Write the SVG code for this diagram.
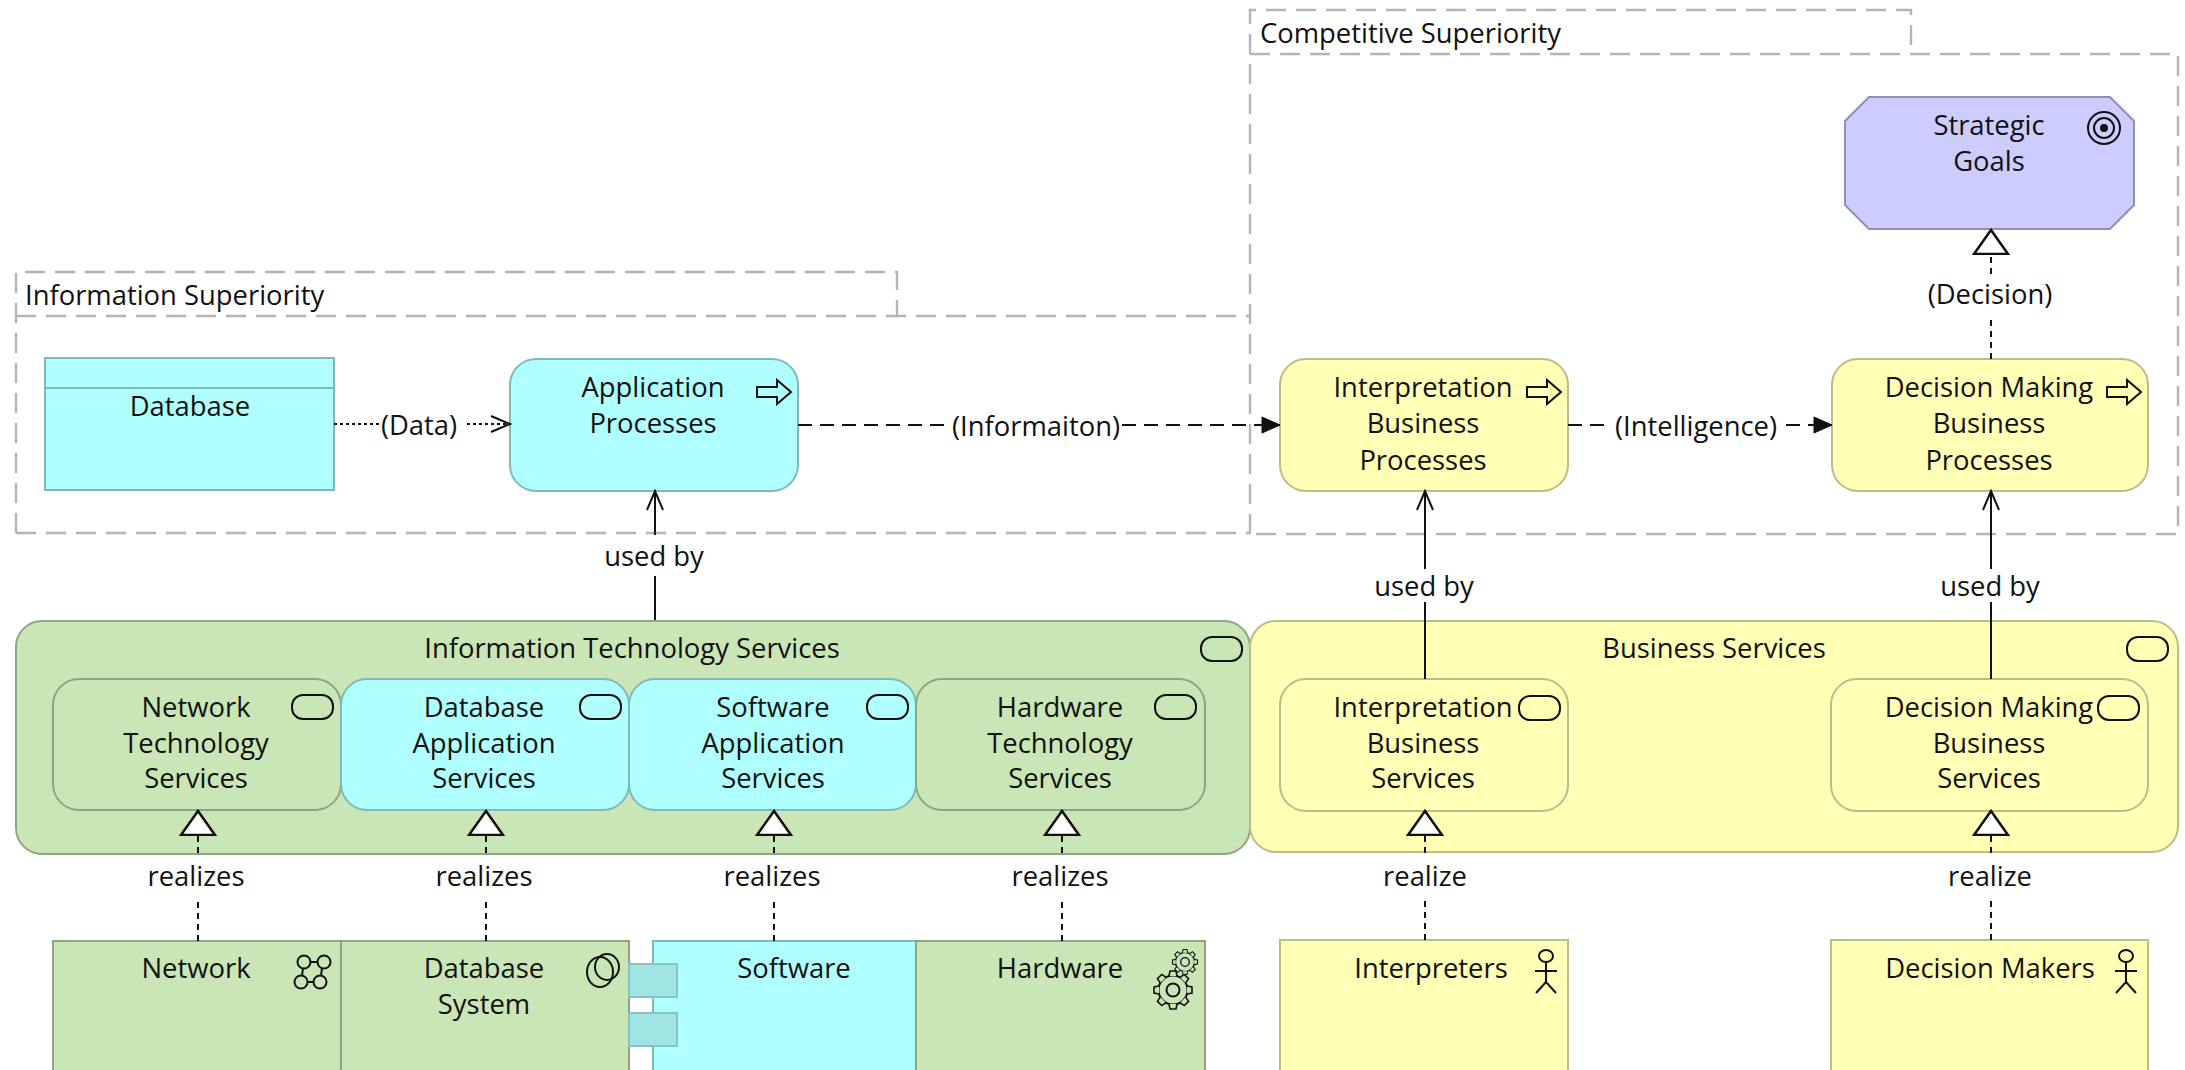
<svg xmlns="http://www.w3.org/2000/svg" width="2185" height="1070" viewBox="0 0 2185 1070">
<style>
text{font-family:"Open Sans","Noto Sans","Liberation Sans",sans-serif;font-size:27.4px;fill:#111;text-anchor:middle}
.l{text-anchor:start}
.grp{fill:none;stroke:#b4b4b4;stroke-width:2.4;stroke-dasharray:20 10}
.app{fill:#b0ffff;stroke:#7fb9b9;stroke-width:2}
.tech{fill:#cbe6b6;stroke:#8ea581;stroke-width:2}
.biz{fill:#ffffb5;stroke:#bcbc88;stroke-width:2}
.goal{fill:#ccccff;stroke:#8f8fb8;stroke-width:2}
.lug{fill:#a0e4e4;stroke:#86c4c4;stroke-width:2}
.ic{fill:none;stroke:#111;stroke-width:2}
.c{fill:none;stroke:#111;stroke-width:2}
.flow{stroke-dasharray:14 8}
.real{stroke-dasharray:6 5}
.acc{stroke-dasharray:3 3}
</style>
<defs>
<marker id="open" markerUnits="userSpaceOnUse" markerWidth="24" markerHeight="24" refX="20" refY="12" orient="auto"><path d="M1,4 L20,12 L1,20" fill="none" stroke="#111" stroke-width="2"/></marker>
<marker id="solid" markerUnits="userSpaceOnUse" markerWidth="24" markerHeight="24" refX="20" refY="12" orient="auto"><path d="M2,4 L20,12 L2,20 Z" fill="#111" stroke="#111"/></marker>
<marker id="tri" markerUnits="userSpaceOnUse" markerWidth="40" markerHeight="44" refX="1" refY="20" orient="auto"><path d="M1,3 L25,20 L1,37 Z" fill="#fff" stroke="#111" stroke-width="2.5"/></marker>
<g id="pill"><rect width="41" height="24" rx="11" ry="11" class="ic"/></g>
<path id="arrow" class="ic" d="M0,8 H20 V1 L34,13 L20,25 V18 H0 Z"/>
<g id="tooth"><path d="M-4,-14 L-3,-19 L3,-19 L4,-14" fill="#cbe6b6" stroke="#111" stroke-width="1.6"/></g>
<g id="gear"><circle r="14.5" class="ic" stroke-width="1.6" fill="#cbe6b6"/><circle r="6.5" class="ic"/>
<use href="#tooth"/><use href="#tooth" transform="rotate(45)"/><use href="#tooth" transform="rotate(90)"/><use href="#tooth" transform="rotate(135)"/><use href="#tooth" transform="rotate(180)"/><use href="#tooth" transform="rotate(225)"/><use href="#tooth" transform="rotate(270)"/><use href="#tooth" transform="rotate(315)"/></g>
<g id="actor" class="ic"><ellipse cx="0" cy="6" rx="7" ry="6"/><path d="M0,12 V32 M-11,21 H11 M-10,43 L0,32 L10,43"/></g>
</defs>
<g id="grp-info"><path class="grp" d="M16,533 V272 H897 V316 M16,316 H1250 M16,533 H1250"/><text class="l" x="25" y="305">Information Superiority</text></g>
<g id="grp-comp"><path class="grp" d="M1250,534 V10 H1911 V54 M1250,54 H2178 V534 H1250"/><text class="l" x="1260" y="43">Competitive Superiority</text></g>
<g id="its"><rect class="tech" x="16" y="621" width="1234" height="233" rx="26"/><text x="632" y="658">Information Technology Services</text><use href="#pill" x="1201" y="637"/></g>
<g id="bs"><rect class="biz" x="1250" y="621" width="928" height="231" rx="26"/><text x="1714" y="658">Business Services</text><use href="#pill" x="2127" y="637"/></g>
<g id="database"><rect class="app" x="45" y="358" width="289" height="132"/><path class="app" d="M45,388 H334"/><text x="190" y="416">Database</text></g>
<g id="app-proc"><rect class="app" x="510" y="359" width="288" height="132" rx="26"/><text x="653" y="397">Application</text><text x="653" y="433">Processes</text><use href="#arrow" x="757" y="379"/></g>
<g id="interp-proc"><rect class="biz" x="1280" y="359" width="288" height="132" rx="26"/><text x="1423" y="397">Interpretation</text><text x="1423" y="433">Business</text><text x="1423" y="470">Processes</text><use href="#arrow" x="1527" y="379"/></g>
<g id="dec-proc"><rect class="biz" x="1832" y="359" width="316" height="132" rx="26"/><text x="1989" y="397">Decision Making</text><text x="1989" y="433">Business</text><text x="1989" y="470">Processes</text><use href="#arrow" x="2107" y="379"/></g>
<g id="goals"><path class="goal" d="M1869,97 H2110 L2134,121 V205 L2110,229 H1869 L1845,205 V121 Z"/><text x="1989" y="135">Strategic</text><text x="1989" y="171">Goals</text><circle class="ic" cx="2104" cy="128" r="16"/><circle class="ic" cx="2104" cy="128" r="10"/><circle cx="2104" cy="128" r="4" fill="#111"/></g>
<g id="net-svc"><rect class="tech" x="53" y="679" width="288" height="131" rx="26"/><text x="196" y="717">Network</text><text x="196" y="753">Technology</text><text x="196" y="788">Services</text><use href="#pill" x="292" y="695"/></g>
<g id="db-svc"><rect class="app" x="341" y="679" width="288" height="131" rx="26"/><text x="484" y="717">Database</text><text x="484" y="753">Application</text><text x="484" y="788">Services</text><use href="#pill" x="580" y="695"/></g>
<g id="sw-svc"><rect class="app" x="629" y="679" width="287" height="131" rx="26"/><text x="773" y="717">Software</text><text x="773" y="753">Application</text><text x="773" y="788">Services</text><use href="#pill" x="867" y="695"/></g>
<g id="hw-svc"><rect class="tech" x="916" y="679" width="289" height="131" rx="26"/><text x="1060" y="717">Hardware</text><text x="1060" y="753">Technology</text><text x="1060" y="788">Services</text><use href="#pill" x="1155" y="695"/></g>
<g id="int-svc"><rect class="biz" x="1280" y="679" width="288" height="132" rx="26"/><text x="1423" y="717">Interpretation</text><text x="1423" y="753">Business</text><text x="1423" y="788">Services</text><use href="#pill" x="1519" y="696"/></g>
<g id="dec-svc"><rect class="biz" x="1831" y="679" width="317" height="132" rx="26"/><text x="1989" y="717">Decision Making</text><text x="1989" y="753">Business</text><text x="1989" y="788">Services</text><use href="#pill" x="2098" y="696"/></g>
<g id="software"><rect class="app" x="653" y="941" width="263" height="140"/><text x="794" y="978">Software</text></g>
<g id="network"><rect class="tech" x="53" y="941" width="288" height="140"/><text x="196" y="978">Network</text><g class="ic"><circle cx="304" cy="962" r="6.5"/><circle cx="324" cy="962" r="6.5"/><circle cx="301" cy="982" r="6.5"/><circle cx="320" cy="982" r="6.5"/><path d="M310,962 H318 M303,968 L302,976 M322,968 L321,976 M307,982 H314"/></g></g>
<g id="db-system"><rect class="tech" x="341" y="941" width="288" height="140"/><text x="484" y="978">Database</text><text x="484" y="1014">System</text><ellipse class="ic" cx="607" cy="967" rx="12" ry="13"/><ellipse class="ic" cx="600" cy="972" rx="13" ry="15" fill="#cbe6b6"/></g>
<g id="lugs"><rect class="lug" x="629" y="964" width="48" height="33"/><rect class="lug" x="629" y="1013" width="48" height="33"/></g>
<g id="hardware"><rect class="tech" x="916" y="941" width="289" height="140"/><text x="1060" y="978">Hardware</text><use href="#gear" transform="translate(1185,962) scale(.66)"/><use href="#gear" transform="translate(1173,990) scale(1)"/></g>
<g id="interpreters"><rect class="biz" x="1280" y="940" width="288" height="140"/><text x="1431" y="978">Interpreters</text><use href="#actor" x="1546" y="950"/></g>
<g id="decision-makers"><rect class="biz" x="1831" y="940" width="317" height="140"/><text x="1990" y="978">Decision Makers</text><use href="#actor" x="2126" y="950"/></g>
<g id="connectors">
<path class="c acc" d="M334,424 H382"/><path class="c acc" d="M467,424 H510" marker-end="url(#open)"/><text x="419" y="435">(Data)</text>
<path class="c flow" d="M798,425 H948"/><path class="c flow" d="M1122,425 H1280" marker-end="url(#solid)"/><text x="1036" y="436">(Informaiton)</text>
<path class="c flow" d="M1568,425 H1606"/><path class="c flow" d="M1786,425 H1832" marker-end="url(#solid)"/><text x="1696" y="436">(Intelligence)</text>
<path class="c real" d="M1991,359 V315"/><path class="c real" d="M1991,274 V254" marker-end="url(#tri)"/><text x="1990" y="304">(Decision)</text>
<path class="c" d="M655,620 V576"/><path class="c" d="M655,535 V491" marker-end="url(#open)"/><text x="654" y="566">used by</text>
<path class="c" d="M1425,679 V602"/><path class="c" d="M1425,569 V491" marker-end="url(#open)"/><text x="1424" y="596">used by</text>
<path class="c" d="M1991,679 V602"/><path class="c" d="M1991,569 V491" marker-end="url(#open)"/><text x="1990" y="596">used by</text>
<path class="c real" d="M198,941 V897"/><path class="c real" d="M198,853 V835" marker-end="url(#tri)"/><text x="196" y="886">realizes</text>
<path class="c real" d="M486,941 V897"/><path class="c real" d="M486,853 V835" marker-end="url(#tri)"/><text x="484" y="886">realizes</text>
<path class="c real" d="M774,941 V897"/><path class="c real" d="M774,853 V835" marker-end="url(#tri)"/><text x="772" y="886">realizes</text>
<path class="c real" d="M1062,941 V897"/><path class="c real" d="M1062,853 V835" marker-end="url(#tri)"/><text x="1060" y="886">realizes</text>
<path class="c real" d="M1425,940 V897"/><path class="c real" d="M1425,853 V835" marker-end="url(#tri)"/><text x="1425" y="886">realize</text>
<path class="c real" d="M1991,940 V897"/><path class="c real" d="M1991,853 V835" marker-end="url(#tri)"/><text x="1990" y="886">realize</text>
</g>
</svg>
